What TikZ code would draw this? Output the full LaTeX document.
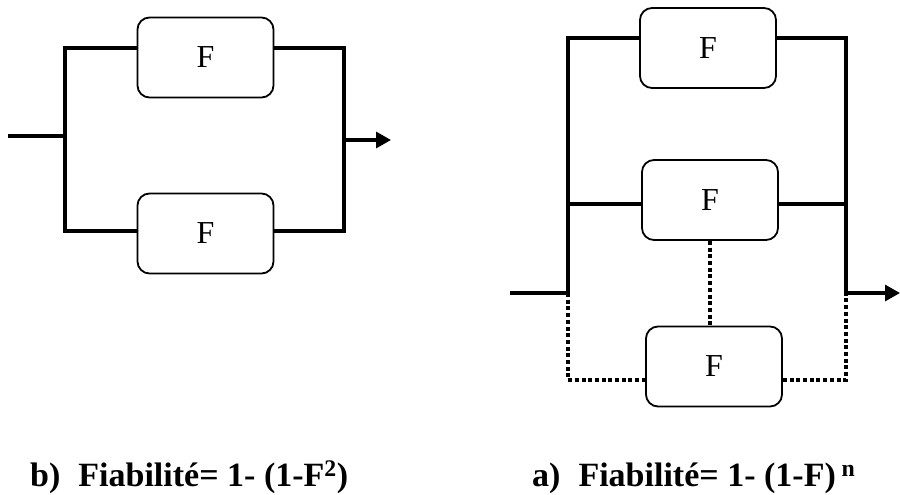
\documentclass[tikz,border=0pt]{standalone}
\usepackage{fontspec}
\setmainfont{Liberation Serif}
\usetikzlibrary{arrows.meta}

\begin{document}
\begin{tikzpicture}[x=1pt, y=-1pt,
    bloc/.style={draw, rounded corners=12pt, line width=1.8pt, minimum width=136pt,
      minimum height=80pt, inner sep=0pt, font=\fontsize{32}{38}\selectfont},
    fil/.style={line width=3.3pt},
    pointille/.style={line width=3.3pt, dash pattern=on 4pt off 2.7pt},
    fleche/.style={fil, -{Triangle[length=15pt,width=16pt]}},
    formule/.style={anchor=base west, inner sep=0pt, font=\fontsize{34}{40}\selectfont\bfseries}]
  \useasboundingbox (0,0) rectangle (900,495);

  % Montage b) : deux blocs en parallele
  \node[bloc] (B1) at (205.5,57.5) {F};
  \node[bloc] (B2) at (205.5,233.5) {F};
  \coordinate (bh1) at (65,48);
  \coordinate (bb1) at (65,231);
  \coordinate (bh2) at (344,48);
  \coordinate (bb2) at (344,231);
  \coordinate (bin) at (8,136);
  \coordinate (bout) at (391,140);
  \draw[fil] (B1.west |- bh1) -- (bh1) -- (bb1) -- (B2.west |- bb1);
  \draw[fil] (B1.east |- bh2) -- (bh2) -- (bb2) -- (B2.east |- bb2);
  \draw[fil] (bin) -- (bin -| bh1);
  \draw[fleche] (bout -| bh2) -- (bout);

  % Montage a) : n blocs en parallele
  \node[bloc] (A1) at (708,48) {F};
  \node[bloc] (A2) at (710,200) {F};
  \node[bloc] (A3) at (714,366.5) {F};
  \coordinate (ah1) at (568,38);
  \coordinate (am1) at (568,204);
  \coordinate (ab1) at (568,293);
  \coordinate (ah2) at (846,38);
  \coordinate (am2) at (846,204);
  \coordinate (ab2) at (846,293);
  \coordinate (ain) at (510,293);
  \coordinate (aout) at (900,293);
  \coordinate (ap1) at (568,380);
  \coordinate (ap2) at (846,380);
  \draw[fil] (A1.west |- ah1) -- (ah1) -- (ab1) -- (ain);
  \draw[fil] (A1.east |- ah2) -- (ah2) -- (ab2);
  \draw[fil] (A2.west |- am1) -- (am1);
  \draw[fil] (A2.east |- am2) -- (am2);
  \draw[fleche] (ab2) -- (aout);
  \draw[pointille] (ab1) -- (ap1) -- (A3.west |- ap1);
  \draw[pointille] (A3.east |- ap2) -- (ap2) -- (ab2);
  \draw[pointille] (A2.south) -- (A2.south |- A3.north);

  \node[formule] (fb) at (30,486) {b)\hspace{18pt}Fiabilité= 1- (1-F\textsuperscript{2})};
  \node[formule] (fa) at (532,486) {a)\hspace{18pt}Fiabilité= 1- (1-F)\,\textsuperscript{n}};
\end{tikzpicture}
\end{document}
